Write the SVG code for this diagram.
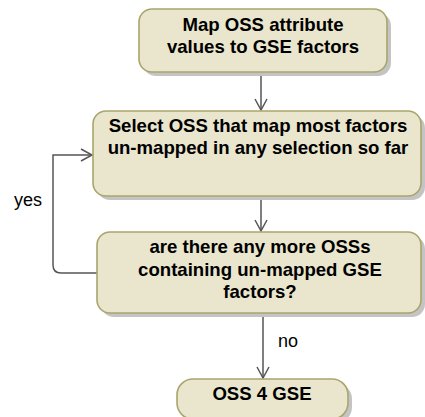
<svg xmlns="http://www.w3.org/2000/svg" width="425" height="417" viewBox="0 0 425 417">
<style>
.box{fill:#e9e6cd;stroke:#a9a56c;stroke-width:1.6}
.sh{fill:#c4c4c4}
.t{font-family:"Liberation Sans",Arial,sans-serif;font-size:18.6px;font-weight:bold;fill:#000;text-anchor:middle}
.l{font-family:"Liberation Sans",Arial,sans-serif;font-size:18px;fill:#000}
.c{fill:none;stroke:#555;stroke-width:1.5}
</style>
<defs>
<marker id="ah" markerWidth="14" markerHeight="14" refX="12" refY="7" orient="auto" markerUnits="userSpaceOnUse">
<path d="M1,1 L12,7 L1,13" fill="none" stroke="#555" stroke-width="1.5"/>
</marker>
</defs>
<g id="connectors">
<path class="c" d="M261,72 V110" marker-end="url(#ah)"/>
<path class="c" d="M261,196 V231" marker-end="url(#ah)"/>
<path class="c" d="M97,273 H61 Q53,273 53,265 V155 H92" marker-end="url(#ah)"/>
<path class="c" d="M263,313 V378" marker-end="url(#ah)"/>
<text class="l" x="14" y="206">yes</text>
<text class="l" x="278" y="347">no</text>
</g>
<g id="n1">
<rect class="sh" x="143" y="13" width="248" height="63" rx="13"/>
<rect class="box" x="139" y="9" width="248" height="63" rx="13"/>
<text class="t" x="263" y="31">Map OSS attribute</text>
<text class="t" x="263" y="53">values to GSE factors</text>
</g>
<g id="n2">
<rect class="sh" x="97" y="115" width="328" height="85" rx="13"/>
<rect class="box" x="93" y="111" width="328" height="85" rx="13"/>
<text class="t" x="258" y="132">Select OSS that map most factors</text>
<text class="t" x="258" y="154">un-mapped in any selection so far</text>
</g>
<g id="n3">
<rect class="sh" x="101" y="236" width="324" height="81" rx="13"/>
<rect class="box" x="97" y="232" width="324" height="81" rx="13"/>
<text class="t" x="260" y="253">are there any more OSSs</text>
<text class="t" x="260" y="276">containing un-mapped GSE</text>
<text class="t" x="260" y="298">factors?</text>
</g>
<g id="n4">
<rect class="sh" x="181" y="383" width="171" height="40" rx="16"/>
<rect class="box" x="177" y="379" width="171" height="40" rx="16"/>
<text class="t" x="262" y="400">OSS 4 GSE</text>
</g>
</svg>
